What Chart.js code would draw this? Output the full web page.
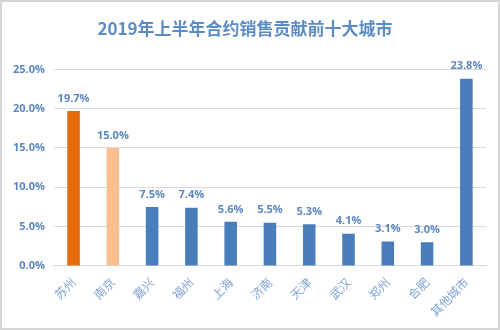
<!DOCTYPE html>
<html>
<head>
<meta charset="utf-8">
<script src="https://cdn.jsdelivr.net/npm/chart.js@4"></script>
<style>
	html, body { margin: 0; padding: 0; background: #fff; }
	#wrap { width: 500px; height: 330px; box-sizing: border-box; border: 2px solid #d6d6d6; position: relative; }
</style>
</head>
<body>
<div id="wrap"><canvas id="chart"></canvas></div>
<script>
// values (percent)
const cities = ['苏州', '南京', '嘉兴', '福州', '上海', '济南', '天津', '武汉', '郑州', '合肥', '其他城市'];
const share = [19.7, 15.0, 7.5, 7.4, 5.6, 5.5, 5.3, 4.1, 3.1, 3.0, 23.8];
const barColors = ['#e46c0a', '#fac090', '#4a7ebb', '#4a7ebb', '#4a7ebb', '#4a7ebb', '#4a7ebb', '#4a7ebb', '#4a7ebb', '#4a7ebb', '#4a7ebb'];

const blueText = '#5b86c0';

// draws the value above each bar
const valueLabels = {
	id: 'valueLabels',
	afterDatasetsDraw(chart) {
		const ctx = chart.ctx;
		const meta = chart.getDatasetMeta(0);
		ctx.save();
		ctx.fillStyle = blueText;
		ctx.font = 'bold 11px "Open Sans", "Noto Sans", sans-serif';
		ctx.textAlign = 'center';
		ctx.textBaseline = 'bottom';
		meta.data.forEach((bar, i) => {
			ctx.fillText(share[i].toFixed(1) + '%', bar.x, bar.y - 7);
		});
		ctx.restore();
	}
};

new Chart(document.getElementById('chart'), {
	type: 'bar',
	data: {
		labels: cities,
		datasets: [{
			data: share,
			backgroundColor: barColors,
			barPercentage: 0.64,
			categoryPercentage: 0.5,
		}]
	},
	options: {
		responsive: true,
		maintainAspectRatio: false,
		animation: false,
		layout: { padding: { left: 2, right: 12, top: 0, bottom: 0 } },
		plugins: {
			legend: { display: false },
			tooltip: { enabled: false },
			title: {
				display: true,
				text: '2019年上半年合约销售贡献前十大城市',
				color: '#5b8cc8',
				font: { size: 17, weight: 'bold', family: '"Noto Sans CJK SC", sans-serif' },
				padding: { top: 16, bottom: 31 }
			}
		},
		scales: {
			y: {
				min: 0,
				max: 25,
				ticks: {
					stepSize: 5,
					color: blueText,
					font: { size: 11, weight: 'bold', family: '"Open Sans", "Noto Sans", sans-serif' },
					padding: 9,
					callback: v => v.toFixed(1) + '%'
				},
				grid: { color: '#d9d9d9', drawTicks: false },
				border: { display: false }
			},
			x: {
				ticks: {
					color: '#7fa3d3',
					minRotation: 45,
					maxRotation: 45,
					font: { size: 12, family: '"Noto Sans CJK SC", sans-serif' },
					padding: 9
				},
				grid: { display: false, drawTicks: false },
				border: { color: '#d9d9d9' }
			}
		}
	},
	plugins: [valueLabels]
});
</script>
</body>
</html>
